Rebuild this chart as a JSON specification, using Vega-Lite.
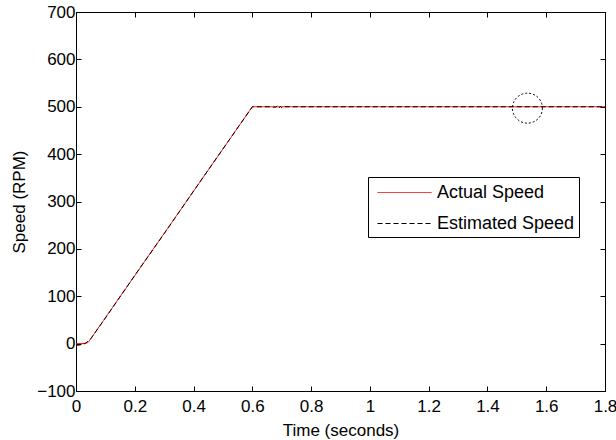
{
  "$schema": "https://vega.github.io/schema/vega-lite/v6.json",
  "width": 529,
  "height": 379,
  "autosize": {"type": "none"},
  "padding": {"left": 76, "top": 12, "right": 11, "bottom": 49},
  "background": "white",
  "config": {
    "font": "Liberation Sans",
    "view": {"stroke": "black", "strokeWidth": 1},
    "axis": {
      "grid": false,
      "domainColor": "black",
      "tickColor": "black",
      "labelColor": "black",
      "titleColor": "black",
      "labelFont": "Liberation Sans",
      "titleFont": "Liberation Sans",
      "labelFontSize": 17,
      "titleFontSize": 17,
      "titleFontWeight": "normal",
      "labelFlush": false,
      "labelOverlap": false,
      "tickSize": -5
    },
    "legend": {
      "labelFont": "Liberation Sans",
      "labelFontSize": 18,
      "labelColor": "black"
    }
  },
  "datasets": {
    "speed": [
      {"t": 0, "speed": 0, "series": "Actual Speed"},
      {"t": 0.02, "speed": 0, "series": "Actual Speed"},
      {"t": 0.035, "speed": 1, "series": "Actual Speed"},
      {"t": 0.042, "speed": 3, "series": "Actual Speed"},
      {"t": 0.6, "speed": 500, "series": "Actual Speed"},
      {"t": 1.8, "speed": 500, "series": "Actual Speed"},
      {"t": 0, "speed": -4, "series": "Estimated Speed"},
      {"t": 0.01, "speed": -3, "series": "Estimated Speed"},
      {"t": 0.02, "speed": -2, "series": "Estimated Speed"},
      {"t": 0.03, "speed": 0, "series": "Estimated Speed"},
      {"t": 0.037, "speed": 3, "series": "Estimated Speed"},
      {"t": 0.045, "speed": 8, "series": "Estimated Speed"},
      {"t": 0.05, "speed": 10, "series": "Estimated Speed"},
      {"t": 0.1, "speed": 54, "series": "Estimated Speed"},
      {"t": 0.2, "speed": 144, "series": "Estimated Speed"},
      {"t": 0.3, "speed": 232, "series": "Estimated Speed"},
      {"t": 0.4, "speed": 322, "series": "Estimated Speed"},
      {"t": 0.5, "speed": 411, "series": "Estimated Speed"},
      {"t": 0.6, "speed": 500, "series": "Estimated Speed"},
      {"t": 0.65, "speed": 500, "series": "Estimated Speed"},
      {"t": 0.68, "speed": 499, "series": "Estimated Speed"},
      {"t": 0.685, "speed": 502, "series": "Estimated Speed"},
      {"t": 0.69, "speed": 497, "series": "Estimated Speed"},
      {"t": 0.695, "speed": 501, "series": "Estimated Speed"},
      {"t": 0.7, "speed": 498, "series": "Estimated Speed"},
      {"t": 0.705, "speed": 501, "series": "Estimated Speed"},
      {"t": 0.71, "speed": 500, "series": "Estimated Speed"},
      {"t": 1.8, "speed": 500, "series": "Estimated Speed"}
    ],
    "marker": [
      {"t": 1.536, "speed": 497}
    ]
  },
  "layer": [
    {
      "data": {"name": "speed"},
      "mark": {"type": "line", "strokeWidth": 1, "clip": true},
      "encoding": {
        "x": {
          "field": "t", "type": "quantitative",
          "scale": {"domain": [0, 1.8], "nice": false, "zero": false},
          "axis": {"orient": "bottom", "values": [0, 0.2, 0.4, 0.6, 0.8, 1, 1.2, 1.4, 1.6, 1.8], "title": "Time (seconds)", "labelPadding": 12, "titlePadding": 8, "format": "~g"}
        },
        "y": {
          "field": "speed", "type": "quantitative",
          "scale": {"domain": [-100, 700], "nice": false, "zero": false},
          "axis": {"orient": "left", "values": [-100, 0, 100, 200, 300, 400, 500, 600, 700], "title": "Speed (RPM)", "labelPadding": 6, "titlePadding": 8}
        },
        "color": {
          "field": "series", "type": "nominal",
          "scale": {"domain": ["Actual Speed", "Estimated Speed"], "range": ["#ff0000", "#000000"]},
          "legend": {
            "title": null,
            "orient": "none",
            "legendX": 292,
            "legendY": 165,
            "direction": "vertical",
            "fillColor": "white",
            "strokeColor": "black",
            "cornerRadius": 0,
            "padding": 4,
            "symbolType": "M-0.545,0H4.364",
            "symbolSize": 484,
            "symbolStrokeWidth": 1,
            "labelOffset": 42,
            "rowPadding": 10
          }
        },
        "strokeDash": {
          "field": "series", "type": "nominal",
          "scale": {"domain": ["Actual Speed", "Estimated Speed"], "range": [[1, 0], [5, 3]]},
          "legend": {
            "title": null,
            "orient": "none",
            "legendX": 292,
            "legendY": 165,
            "direction": "vertical",
            "fillColor": "white",
            "strokeColor": "black",
            "cornerRadius": 0,
            "padding": 4,
            "symbolType": "M-0.545,0H4.364",
            "symbolSize": 484,
            "symbolStrokeWidth": 1,
            "labelOffset": 42,
            "rowPadding": 10
          }
        }
      }
    },
    {
      "data": {"name": "marker"},
      "mark": {"type": "point", "shape": "circle", "filled": false, "stroke": "black", "strokeWidth": 1, "strokeDash": [2, 2], "size": 900, "opacity": 1},
      "encoding": {
        "x": {
          "field": "t", "type": "quantitative",
          "axis": {"orient": "top", "values": [0, 0.2, 0.4, 0.6, 0.8, 1, 1.2, 1.4, 1.6, 1.8], "labels": false, "title": null}
        },
        "y": {
          "field": "speed", "type": "quantitative",
          "axis": {"orient": "right", "values": [-100, 0, 100, 200, 300, 400, 500, 600, 700], "labels": false, "title": null}
        }
      }
    }
  ],
  "resolve": {"axis": {"x": "independent", "y": "independent"}}
}
